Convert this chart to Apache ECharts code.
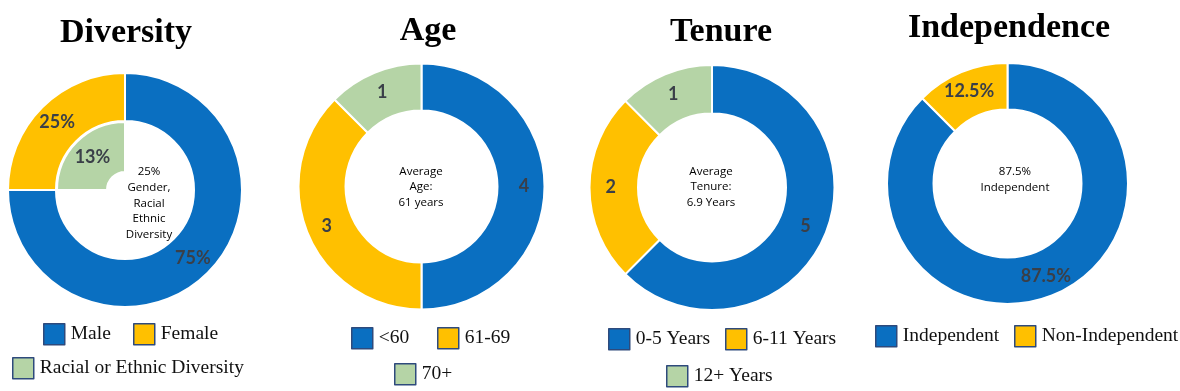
<!DOCTYPE html>
<html>
<head>
<meta charset="utf-8">
<script src="https://cdn.jsdelivr.net/npm/echarts@6/dist/echarts.min.js"></script>
<style>
html,body{margin:0;padding:0;background:#fff;}
#chart{width:1180px;height:391px;}
</style>
</head>
<body>
<div id="chart"></div>
<script>
// ---- data ----
const titles = ['Diversity', 'Age', 'Tenure', 'Independence'];
const centerTexts = [
  '25%\nGender,\nRacial\nEthnic\nDiversity',
  'Average\nAge:\n61 years',
  'Average\nTenure:\n6.9 Years',
  '87.5%\nIndependent'
];
const diversityNames = ['Male', 'Female'];
const diversityValues = [75, 25];
const diversityLabels = ['75%', '25%'];
const diversityInnerNames = ['', 'Racial or Ethnic Diversity'];
const diversityInnerValues = [75, 25];
const diversityInnerLabels = ['', '13%'];
const ageNames = ['<60', '61-69', '70+'];
const ageValues = [4, 3, 1];
const tenureNames = ['0-5 Years', '6-11 Years', '12+ Years'];
const tenureValues = [5, 2, 1];
const independenceNames = ['Independent', 'Non-Independent'];
const independenceValues = [87.5, 12.5];
const independenceLabels = ['87.5%', '12.5%'];

// ---- style ----
const BLUE = '#0A6FC1', YELLOW = '#FFC000', GREEN = '#B5D4A6';
const labelStyle = {
  show: true, position: 'inside', color: '#3a3f48',
  fontFamily: 'Lato', fontWeight: 'bold', fontSize: 18
};
const ringStyle = (color) => ({ color: color, borderColor: '#fff', borderWidth: 2 });

function ring(names, values, colors, center, radius, labels) {
  return {
    type: 'pie', center: center, radius: radius, silent: true,
    startAngle: 90, clockwise: true, avoidLabelOverlap: false,
    labelLine: { show: false },
    emphasis: { disabled: true },
    label: Object.assign({}, labelStyle, {
      formatter: labels ? (p) => labels[p.dataIndex] : (p) => String(p.value)
    }),
    data: names.map((n, i) => ({ name: n, value: values[i], itemStyle: ringStyle(colors[i]) }))
  };
}

const divInner = {
  type: 'pie', center: [125, 190], radius: [18, 68], silent: true,
  startAngle: 90, clockwise: true, avoidLabelOverlap: false,
  labelLine: { show: false }, emphasis: { disabled: true },
  label: Object.assign({}, labelStyle, { formatter: (p) => diversityInnerLabels[p.dataIndex] }),
  data: diversityInnerNames.map((n, i) => ({
    name: n, value: diversityInnerValues[i],
    itemStyle: i === 0 ? { color: 'rgba(0,0,0,0)', borderWidth: 0 } : ringStyle(GREEN),
    label: i === 0 ? { show: false } : undefined
  }))
};

const series = [
  ring(diversityNames, diversityValues, [BLUE, YELLOW], [125, 190], [69, 117], diversityLabels),
  divInner,
  ring(ageNames, ageValues, [BLUE, YELLOW, GREEN], [421.5, 186.5], [76, 123]),
  ring(tenureNames, tenureValues, [BLUE, YELLOW, GREEN], [712, 187.5], [74, 122.5]),
  ring(independenceNames, independenceValues, [BLUE, YELLOW], [1007.5, 183.5], [74, 120.5], independenceLabels)
];

// legends: one component per item for exact placement
const legendPos = [
  ['Male', 43, 323], ['Female', 133, 323], ['Racial or Ethnic Diversity', 12, 357],
  ['<60', 351, 327], ['61-69', 437, 327], ['70+', 394, 363],
  ['0-5 Years', 608, 328], ['6-11 Years', 725, 328], ['12+ Years', 666, 365],
  ['Independent', 875, 325], ['Non-Independent', 1014, 325]
];
const legend = legendPos.map(([name, left, top]) => ({
  data: [name], left: left, top: top, padding: 0, orient: 'horizontal',
  icon: 'rect', itemWidth: 21, itemHeight: 21, selectedMode: false,
  itemStyle: { borderColor: '#2E4A7C', borderWidth: 1.5 },
  textStyle: { fontFamily: 'Liberation Serif', fontSize: 19.5, color: '#111', padding: [0, 0, 0, 1] }
}));

const titlePos = [[126, 33], [428, 31.5], [721, 32.5], [1009, 28.5]];
const centerPos = [[149, 203.5], [421, 187], [711, 187], [1015, 179.5]];
const graphic = [];
titles.forEach((t, i) => graphic.push({
  type: 'text', x: titlePos[i][0], y: titlePos[i][1], silent: true,
  style: { text: t, fontFamily: 'Liberation Serif', fontWeight: 'bold', fontSize: 34,
           fill: '#000', align: 'center', verticalAlign: 'middle' }
}));
centerTexts.forEach((t, i) => graphic.push({
  type: 'text', x: centerPos[i][0], y: centerPos[i][1], silent: true,
  style: { text: t, fontFamily: 'Open Sans', fontSize: 11.5, lineHeight: 15.7,
           fill: '#000', align: 'center', verticalAlign: 'middle' }
}));

const chart = echarts.init(document.getElementById('chart'), null, { renderer: 'canvas' });
chart.setOption({
  animation: false,
  backgroundColor: '#fff',
  legend: legend,
  series: series,
  graphic: graphic
});
</script>
</body>
</html>
